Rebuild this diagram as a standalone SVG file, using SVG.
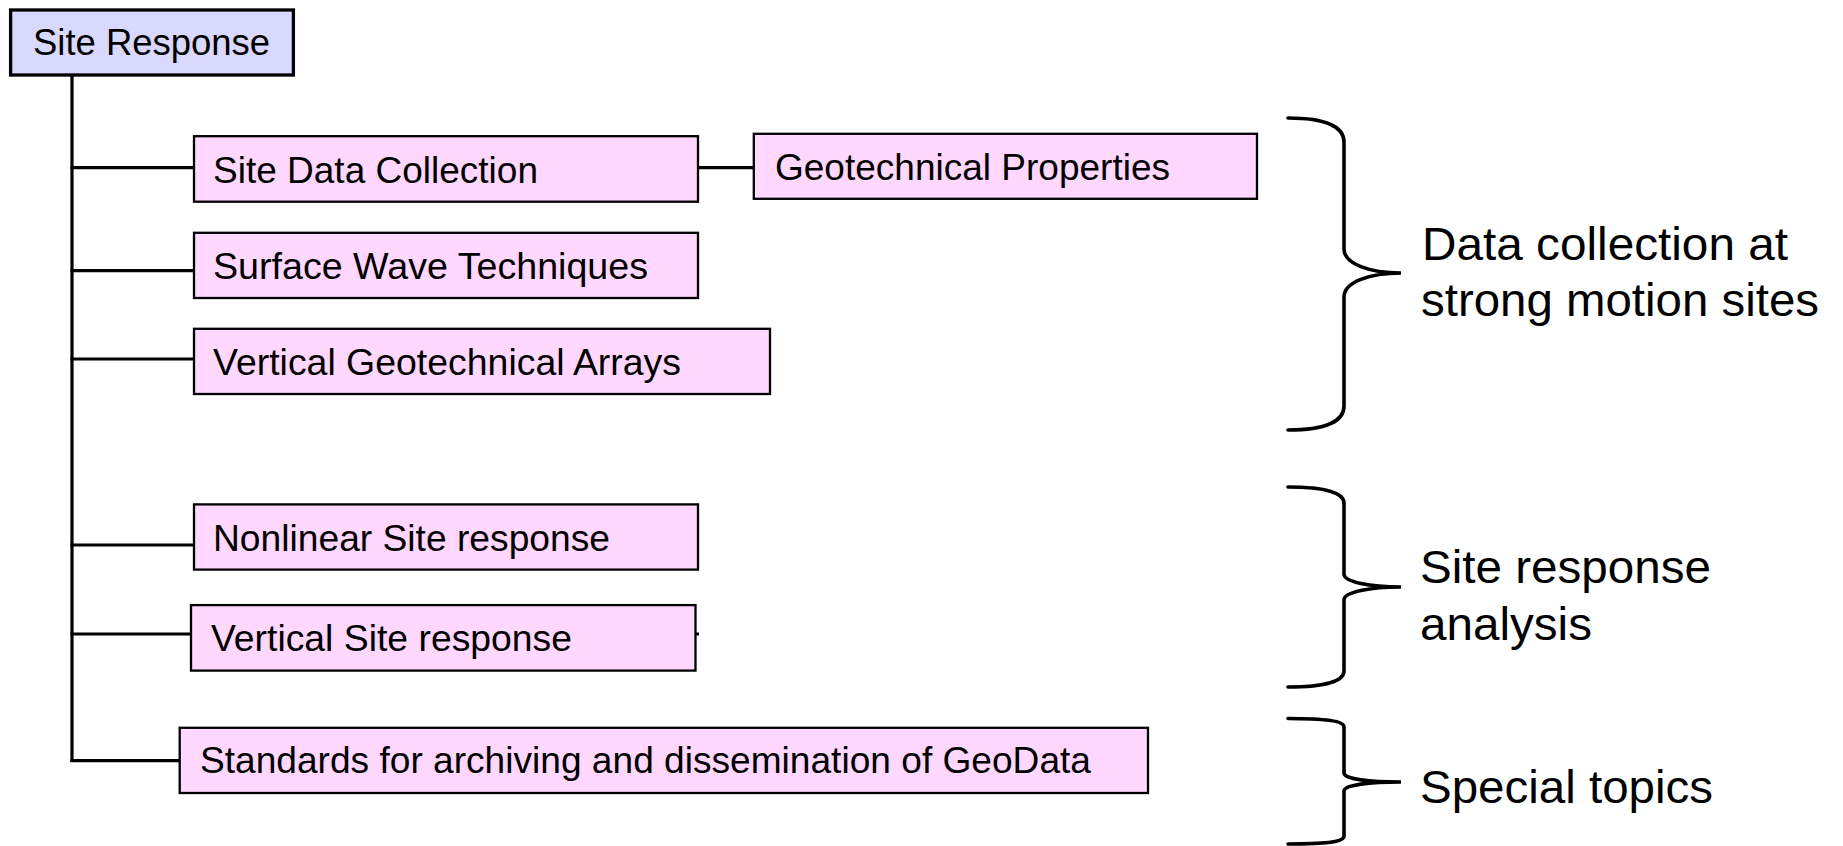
<svg xmlns="http://www.w3.org/2000/svg" width="1843" height="846" viewBox="0 0 1843 846">
  <style>
    .box { fill: #ffd7ff; stroke: #000; stroke-width: 2.3; }
    .root { fill: #d9d9fe; stroke: #000; stroke-width: 3.3; }
    .lbl { font-family: "Liberation Sans", Arial, sans-serif; font-size: 36.5px; fill: #000; }
    .rootlbl { font-family: "Liberation Sans", Arial, sans-serif; font-size: 36px; fill: #000; }
    .note { font-family: "Liberation Sans", Arial, sans-serif; font-size: 47px; fill: #000; }
    .wire { stroke: #000; stroke-width: 3.2; fill: none; }
    .brace { stroke: #000; stroke-width: 3.6; fill: none; stroke-linecap: round; }
  </style>
  <rect width="1843" height="846" fill="#ffffff"/>

  <!-- tree connectors, drawn first so the boxes sit on top -->
  <g id="connectors">
    <line class="wire" x1="72" y1="76" x2="72" y2="762"/>
    <line class="wire" x1="70.5" y1="167.7" x2="194" y2="167.7"/>
    <line class="wire" x1="698" y1="167.7" x2="754" y2="167.7"/>
    <line class="wire" x1="70.5" y1="270.7" x2="194" y2="270.7"/>
    <line class="wire" x1="70.5" y1="359" x2="194" y2="359"/>
    <line class="wire" x1="70.5" y1="545" x2="194" y2="545"/>
    <line class="wire" x1="70.5" y1="634" x2="699" y2="634"/>
    <line class="wire" x1="70.5" y1="760.7" x2="180" y2="760.7"/>
  </g>

  <g id="node-site-response">
    <rect class="root" x="10.6" y="10" width="282.8" height="65"/>
    <text class="rootlbl" x="33" y="54.5" textLength="237" lengthAdjust="spacingAndGlyphs">Site Response</text>
  </g>

  <g id="node-site-data-collection">
    <rect class="box" x="194" y="136.2" width="504" height="65.5"/>
    <text class="lbl" x="213" y="182.7" textLength="325" lengthAdjust="spacingAndGlyphs">Site Data Collection</text>
  </g>

  <g id="node-geotechnical-properties">
    <rect class="box" x="753.8" y="133.8" width="503.2" height="65"/>
    <text class="lbl" x="775" y="180" textLength="395" lengthAdjust="spacingAndGlyphs">Geotechnical Properties</text>
  </g>

  <g id="node-surface-wave">
    <rect class="box" x="194" y="232.8" width="504" height="65.2"/>
    <text class="lbl" x="213" y="278.5" textLength="435" lengthAdjust="spacingAndGlyphs">Surface Wave Techniques</text>
  </g>

  <g id="node-vertical-arrays">
    <rect class="box" x="194" y="328.8" width="576" height="65.2"/>
    <text class="lbl" x="213" y="374.5" textLength="468" lengthAdjust="spacingAndGlyphs">Vertical Geotechnical Arrays</text>
  </g>

  <g id="node-nonlinear">
    <rect class="box" x="194" y="504.4" width="504" height="65.2"/>
    <text class="lbl" x="213" y="550.7" textLength="397" lengthAdjust="spacingAndGlyphs">Nonlinear Site response</text>
  </g>

  <g id="node-vertical-site">
    <rect class="box" x="191" y="605.1" width="504.5" height="65.5"/>
    <text class="lbl" x="211" y="650.7" textLength="361" lengthAdjust="spacingAndGlyphs">Vertical Site response</text>
  </g>

  <g id="node-standards">
    <rect class="box" x="179.7" y="727.8" width="968.3" height="65.2"/>
    <text class="lbl" x="200" y="773.3" textLength="891" lengthAdjust="spacingAndGlyphs">Standards for archiving and dissemination of GeoData</text>
  </g>

  <!-- grouping braces with their captions -->
  <g id="group-data-collection">
    <path class="brace" d="M1288,118 C1326,118 1344,127 1344,142 L1344,249 C1344,264 1370,273 1401,273 C1370,273 1344,282 1344,297 L1344,406 C1344,421 1326,430 1288,430"/>
    <text class="note" x="1422" y="260" textLength="366" lengthAdjust="spacingAndGlyphs">Data collection at</text>
    <text class="note" x="1421" y="316" textLength="398" lengthAdjust="spacingAndGlyphs">strong motion sites</text>
  </g>

  <g id="group-site-response">
    <path class="brace" d="M1288,487 C1326,487 1344,493 1344,503 L1344,574 C1344,582 1370,587 1401,587 C1370,587 1344,592 1344,600 L1344,671 C1344,681 1326,687 1288,687"/>
    <text class="note" x="1420" y="583" textLength="291" lengthAdjust="spacingAndGlyphs">Site response</text>
    <text class="note" x="1420" y="640" textLength="172" lengthAdjust="spacingAndGlyphs">analysis</text>
  </g>

  <g id="group-special">
    <path class="brace" d="M1288,718.5 C1326,718.5 1344,721 1344,727 L1344,773 C1344,779 1370,782 1401,782 C1370,782 1344,785 1344,791 L1344,836 C1344,842 1326,844 1288,844"/>
    <text class="note" x="1420" y="803" textLength="293" lengthAdjust="spacingAndGlyphs">Special topics</text>
  </g>
</svg>
